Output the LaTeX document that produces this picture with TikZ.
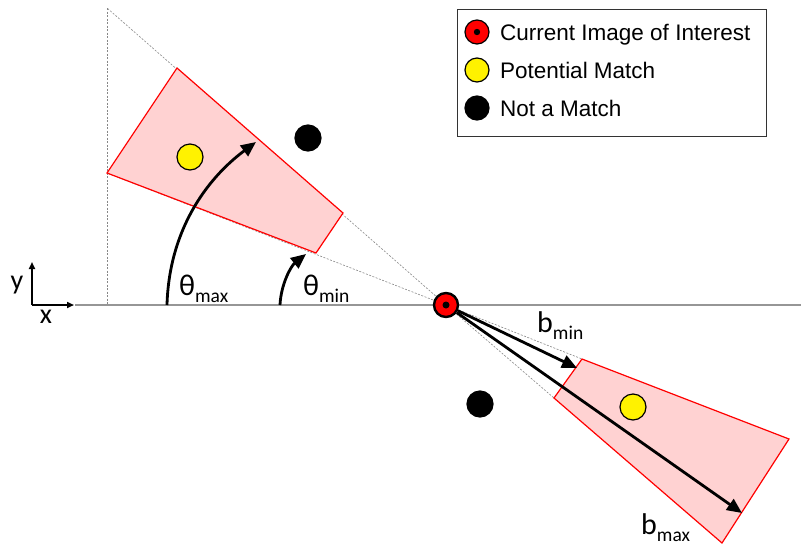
\documentclass[tikz,border=0pt]{standalone}
\usepackage{fontspec}
\setmainfont{Liberation Sans}
\newfontfamily\carl{Carlito}
\usetikzlibrary{arrows.meta}
\definecolor{axisgray}{RGB}{150,150,150}
\definecolor{zonepink}{RGB}{255,210,210}
\newcommand\symlbl[3]{{\carl\fontsize{#3}{#3}\selectfont #1}{\carl\fontsize{19.5}{19.5}\selectfont\raisebox{-7pt}{#2}}}
\begin{document}
\begin{tikzpicture}[x=1pt,y=-1pt,
  dotline/.style={axisgray!90!black, line width=0.6pt, dash pattern=on 2pt off 1.5pt},
  zone/.style={draw=red, fill=zonepink, line width=1.2pt, line join=miter},
  bigarrow/.style={line width=2.8pt, -{Triangle[length=15pt,width=13pt]}},
  smallarrow/.style={line width=1.6pt, -{Triangle[length=7pt,width=6pt]}},
  dot/.style={circle, draw=black, line width=1.2pt, minimum size=26pt, inner sep=0pt},
  legdot/.style={circle, draw=black, line width=1.2pt, minimum size=24pt, inner sep=0pt},
  legtext/.style={anchor=base west, inner sep=0pt, font=\fontsize{22.5}{22.5}\selectfont},
  sym/.style={anchor=base west, inner sep=0pt}]
\useasboundingbox (0,0) rectangle (801,547);
% key points
\coordinate (ctr) at (446,305);
\coordinate (tlA) at (107,173);
\coordinate (tlB) at (177,68);
\coordinate (tlC) at (343,213);
\coordinate (tlD) at (316,253);
\coordinate (brA) at (554,398);
\coordinate (brB) at (582,359);
\coordinate (brC) at (789,439);
\coordinate (brD) at (722,543);
\coordinate (vtop) at (107,8);
\coordinate (vbot) at (107,305);
\coordinate (axL) at (75,305);
\coordinate (axR) at (801,305);
% dotted guide lines
\draw[dotline] (ctr) -- (vtop);
\draw[dotline] (ctr) -- (tlA);
\draw[dotline] (ctr) -- (brB);
\draw[dotline] (ctr) -- (brA);
\draw[dotline] (vtop) -- (vbot);
% zones
\draw[zone] (tlA) -- (tlB) -- (tlC) -- (tlD) -- cycle;
\draw[zone] (brA) -- (brB) -- (brC) -- (brD) -- cycle;
% horizontal axis
\draw[axisgray, line width=1.5pt] (axL) -- (axR);
% small axes
\coordinate (org) at (32,305);
\coordinate (xend) at (74,305);
\coordinate (yend) at (32,262);
\draw[smallarrow] (org) -- (xend);
\draw[smallarrow] (org) -- (yend);
\node[font=\carl\fontsize{28}{28}\selectfont, inner sep=0pt] (ylab) at (17,285) {y};
\node[font=\carl\fontsize{28}{28}\selectfont, inner sep=0pt] (xlab) at (46,317) {x};
% angle arrows
\coordinate (tmaxS) at (167,305);
\coordinate (tmaxE) at (256,142);
\coordinate (tminS) at (280,305);
\coordinate (tminE) at (306,254);
\draw[bigarrow] (tmaxS) .. controls (169,232) and (205,180) .. (tmaxE);
\draw[bigarrow] (tminS) .. controls (281,284) and (291,266) .. (tminE);
\node[sym] (thmax) at (179,295) {\symlbl{θ}{max}{30}};
\node[sym] (thmin) at (303,295) {\symlbl{θ}{min}{30}};
% centre point
\node[circle, fill=red, draw=black, line width=2.4pt, minimum size=24pt, inner sep=0pt] (O) at (ctr) {};
\fill (O.center) circle (3.5);
% distance arrows
\coordinate (bminE) at (577,368);
\coordinate (bmaxE) at (742,513);
\draw[bigarrow] (O) -- (bminE);
\draw[bigarrow] (O) -- (bmaxE);
\node[sym] (bmin) at (537,332) {\symlbl{b}{min}{30}};
\node[sym] (bmax) at (641,534) {\symlbl{b}{max}{30}};
% points
\node[dot, fill=yellow] (p1) at (190,157) {};
\node[dot, fill=yellow] (p2) at (633,407) {};
\node[dot, fill=black] (n1) at (308,138) {};
\node[dot, fill=black] (n2) at (480,404) {};
% legend
\node[draw=black!80, line width=1pt, minimum width=309pt, minimum height=127pt, inner sep=0pt] (leg) at (611.5,72.5) {};
\node[legdot, fill=red] (l1) at (477,32) {};
\fill (l1.center) circle (3.2);
\node[legdot, fill=yellow] (l2) at (477,70) {};
\node[legdot, fill=black] (l3) at (477,108) {};
\node[legtext] (t1) at (500,40) {Current Image of Interest};
\node[legtext] (t2) at (500,78) {Potential Match};
\node[legtext] (t3) at (500,116) {Not a Match};
\end{tikzpicture}
\end{document}
